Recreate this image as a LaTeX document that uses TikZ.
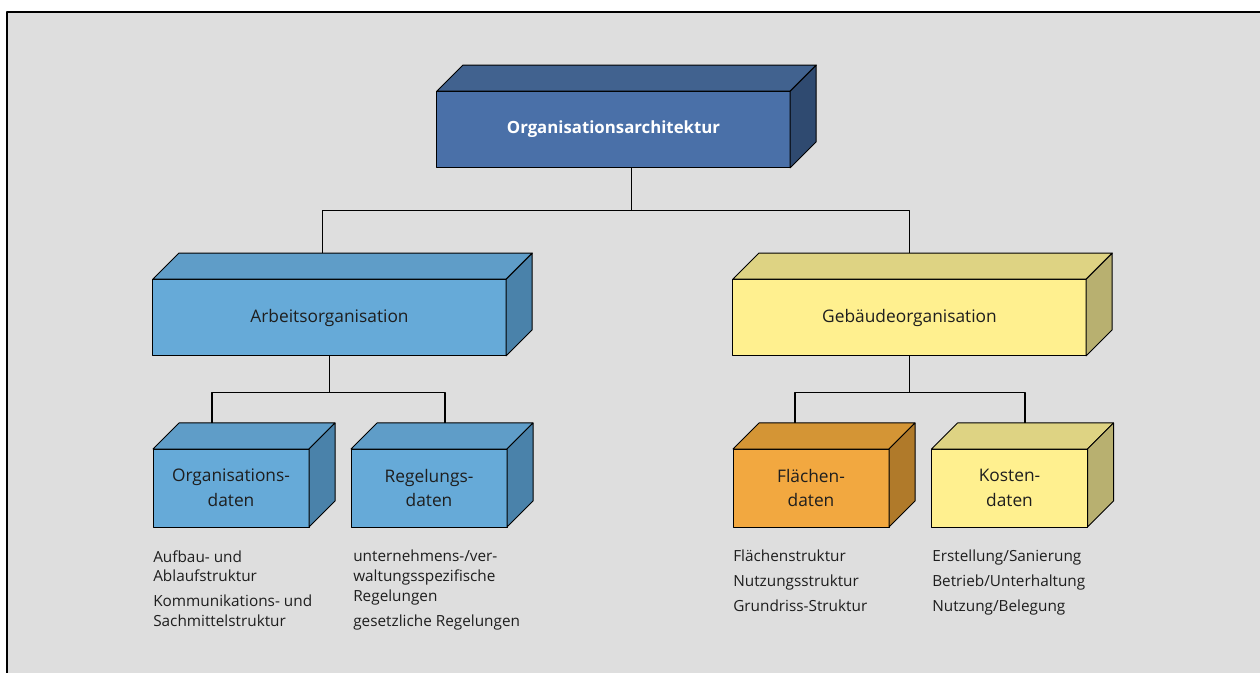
\documentclass[tikz,border=0pt]{standalone}
\usepackage{fontspec}
\setmainfont{Open Sans}
\usetikzlibrary{calc}
\definecolor{bgray}{RGB}{222,222,222}
\definecolor{txt}{RGB}{30,30,30}
\definecolor{darkF}{RGB}{74,112,168}
\definecolor{darkT}{RGB}{65,98,143}
\definecolor{darkS}{RGB}{47,74,112}
\definecolor{lightF}{RGB}{102,170,216}
\definecolor{lightT}{RGB}{95,157,200}
\definecolor{lightS}{RGB}{74,130,170}
\definecolor{yelF}{RGB}{255,240,143}
\definecolor{yelT}{RGB}{222,211,131}
\definecolor{yelS}{RGB}{184,176,112}
\definecolor{oraF}{RGB}{242,168,64}
\definecolor{oraT}{RGB}{212,149,53}
\definecolor{oraS}{RGB}{176,122,42}
\begin{document}
\begin{tikzpicture}[x=0.75pt,y=-0.75pt,line join=round,text=txt,
	box/.style={draw,line width=0.75pt,outer sep=0pt,inner sep=0pt,align=center,font=\fontsize{13}{18.5}\selectfont},
	big/.style={box,minimum width=265pt,minimum height=57.5pt},
	small/.style={box,minimum width=117pt,minimum height=58.5pt},
	list/.style={anchor=north west,align=left,inner sep=0pt,font=\fontsize{11.5}{14.5}\selectfont}]
	\def\dep{26}
	\useasboundingbox (0,0) rectangle (1260,673);
	\fill[bgray] (7,12) rectangle (1260,673);
	\draw[line width=1pt] (7,673)--(7,12)--(1260,12);
	% boxes
	\node[big,fill=darkF,text=white,font=\fontsize{12.6}{14}\selectfont\bfseries] (top) at (613.5,129.5) {Organisationsarchitektur};
	\node[big,fill=lightF] (arb) at (329.5,317.5) {Arbeitsorganisation};
	\node[big,fill=yelF] (geb) at (909.5,317.5) {Gebäudeorganisation};
	\node[small,fill=lightF] (orga) at (231,488) {Organisations-\\daten};
	\node[small,fill=lightF] (regel) at (429,488) {Regelungs-\\daten};
	\node[small,fill=oraF] (flae) at (811,488) {Flächen-\\daten};
	\node[small,fill=yelF] (kost) at (1009.5,488) {Kosten-\\daten};
	\foreach \n/\ct/\cs in {top/darkT/darkS,arb/lightT/lightS,geb/yelT/yelS,orga/lightT/lightS,regel/lightT/lightS,flae/oraT/oraS,kost/yelT/yelS}{
		\filldraw[fill=\ct,line width=0.75pt] (\n.north west)--++(\dep,-\dep)--($(\n.north east)+(\dep,-\dep)$)--(\n.north east)--cycle;
		\filldraw[fill=\cs,line width=0.75pt] (\n.north east)--++(\dep,-\dep)--($(\n.south east)+(\dep,-\dep)$)--(\n.south east)--cycle;
	}
	% connectors
	\begin{scope}[line width=0.8pt]
		\draw ($(top.south)+(18,0)$)--++(0,43) coordinate (j1);
		\draw ($(arb.north)+(-7,-\dep)$) |- (j1) -| ($(geb.north)+(0,-\dep)$);
		\draw (arb.south)--++(0,37) coordinate (j2);
		\draw ($(orga.north)+(-19,-\dep)$) |- (j2) -| ($(regel.north)+(16,-\dep)$);
		\draw (geb.south)--++(0,37) coordinate (j3);
		\draw ($(flae.north)+(-16,-\dep)$) |- (j3) -| ($(kost.north)+(15.5,-\dep)$);
	\end{scope}
	% lists
	\node[list] (l1) at (153,550) {Aufbau- und\\Ablaufstruktur\\[4.5pt]Kommunikations- und\\Sachmittelstruktur};
	\node[list,font=\fontsize{11.5}{15}\selectfont] (l2) at (353,550) {unternehmens-/ver-\\waltungsspezifische\\Regelungen\\[3.7pt]gesetzliche Regelungen};
	\node[list,font=\fontsize{11.5}{18.75}\selectfont] (l3) at (733,550) {Flächenstruktur\\Nutzungsstruktur\\Grundriss-Struktur};
	\node[list,font=\fontsize{11.5}{18.75}\selectfont] (l4) at (932,550) {Erstellung/Sanierung\\Betrieb/Unterhaltung\\Nutzung/Belegung};
\end{tikzpicture}
\end{document}
